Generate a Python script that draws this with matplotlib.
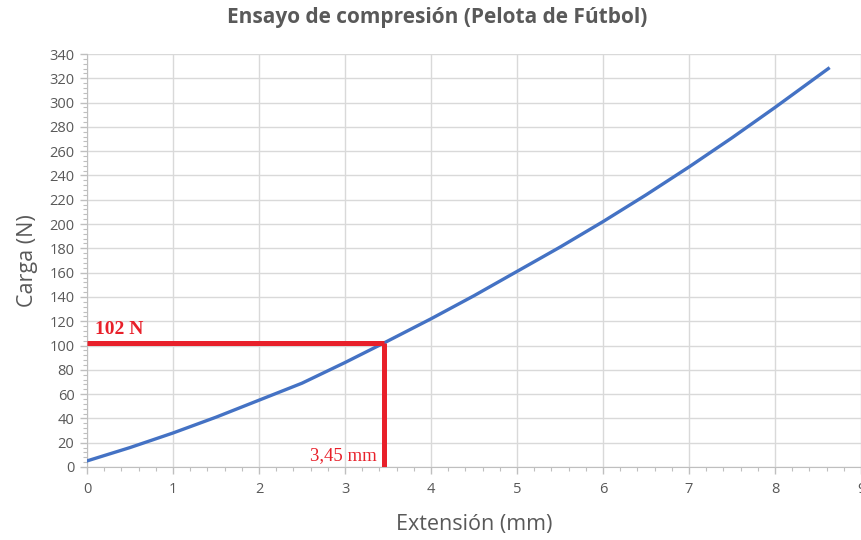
import matplotlib.pyplot as plt
from matplotlib.ticker import MultipleLocator
import numpy as np

# data
ext_mm = [0, 0.5, 1, 1.5, 2, 2.5, 3, 3.45, 4, 4.5, 5, 5.5, 6, 6.5, 7, 7.5, 8, 8.62]
carga_n = [5, 16, 28, 41, 55, 69, 86, 102, 122, 141, 161, 181, 202, 224, 247, 271, 296, 328]

x_mark = 3.45
y_mark = 102

x_ticks = np.arange(0, 10, 1)
y_ticks = np.arange(0, 341, 20)

grey = '#595959'
red = '#E8202A'

plt.rcParams['font.family'] = ['Open Sans', 'DejaVu Sans']

fig = plt.figure(figsize=(8.61, 5.40), dpi=100)
ax = fig.add_axes([87 / 861, 73 / 540, 774 / 861, 413 / 540])

ax.plot(ext_mm, carga_n, color='#4472C4', lw=2.4, zorder=3)

ax.plot([0, x_mark], [y_mark, y_mark], color=red, lw=3.6, zorder=4, solid_capstyle='butt')
ax.plot([x_mark, x_mark], [0, y_mark], color=red, lw=3.6, zorder=4, solid_capstyle='butt')

ax.text(0.09, y_mark + 4, '102 N', color=red, fontsize=14, fontweight='bold',
        family='Liberation Serif', va='bottom', ha='left')
ax.text(x_mark - 0.08, 2, '3,45 mm', color=red, fontsize=13.5,
        family='Liberation Serif', va='bottom', ha='right')

ax.set_xlim(0, 9)
ax.set_ylim(0, 340)
ax.set_xticks(x_ticks)
ax.set_yticks(y_ticks)
ax.xaxis.set_minor_locator(MultipleLocator(0.2))
ax.yaxis.set_minor_locator(MultipleLocator(4))

ax.grid(True, which='major', color='#d9d9d9', lw=1)
ax.set_axisbelow(True)

for s in ['top', 'right']:
    ax.spines[s].set_visible(False)
for s in ['left', 'bottom']:
    ax.spines[s].set_color('#bfbfbf')

ax.tick_params(which='major', colors='#bfbfbf', labelcolor=grey, labelsize=10.5, length=5, width=1)
ax.tick_params(which='minor', colors='#bfbfbf', length=3, width=0.8)
ax.tick_params(axis='x', pad=6)
ax.tick_params(axis='y', pad=4)

ax.set_xlabel('Extensión (mm)', color=grey, fontsize=15.5, labelpad=12)
ax.set_ylabel('Carga (N)', color=grey, fontsize=15.5, labelpad=8)

fig.text(437 / 861, 1 - 18 / 540, 'Ensayo de compresión (Pelota de Fútbol)', color=grey,
         fontsize=15, fontweight='bold', ha='center', va='center')

fig.savefig('out.png', dpi=100)
